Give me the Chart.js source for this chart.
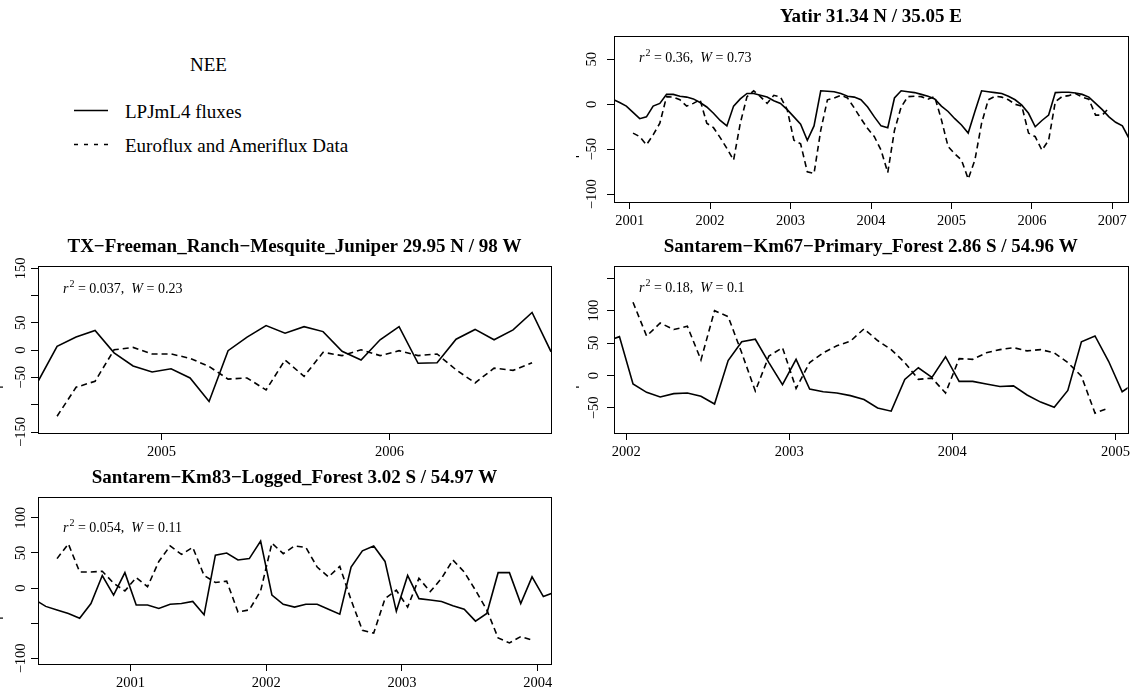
<!DOCTYPE html>
<html>
<head>
<meta charset="utf-8">
<script src="https://cdn.jsdelivr.net/npm/chart.js@4.4.1/dist/chart.umd.min.js"></script>
<style>
  html, body { margin: 0; padding: 0; background: #fff; }
  body { width: 1133px; height: 695px; overflow: hidden; position: relative; font-family: "Liberation Serif", serif; }
  canvas { position: absolute; }
  #legend { position: absolute; left: 0; top: 0; }
</style>
</head>
<body>
<svg id="legend" width="420" height="170" font-family="Liberation Serif, serif" font-size="19">
  <text id="legTitle" x="208.5" y="64" text-anchor="middle" dominant-baseline="central"></text>
  <line x1="74" y1="110.5" x2="108" y2="110.5" stroke="#000" stroke-width="1.3"/>
  <text id="leg0" x="125" y="111" dominant-baseline="central"></text>
  <line x1="74" y1="144.5" x2="108" y2="144.5" stroke="#000" stroke-width="1.3" stroke-dasharray="4 6"/>
  <text id="leg1" x="125" y="145" dominant-baseline="central"></text>
</svg>
<script>
// ---- Data (monthly NEE) ----
const legendTitle = 'NEE';
const seriesNames = ['LPJmL4 fluxes', 'Euroflux and Ameriflux Data'];

// Yatir
const yatirTitle = 'Yatir 31.34 N / 35.05 E';
const yatirStats = ['0.36', '0.73'];
const yatirModelStart = [2000, 10];
const yatirModel = [
  5.6, 2, -2,
  -9, -16, -14, -2, 1, 11, 11, 9, 8, 6, 2, -3,
  -10, -18, -24, -2, 6, 12, 12, 10, 8, 4, 1, -6,
  -14, -22, -40, -24, 15, 14.5, 14, 12, 9, 8, 5, -3,
  -14, -24, -26, 7, 15, 14, 13, 11, 9, 6, -2, -8,
  -16, -23, -32, -8, 15, 14, 13, 12, 9, 5, -1, -10,
  -25, -18, -12, 13, 13.4, 13.4, 12.6, 11, 8, 1, -6, -14,
  -20, -24, -38
];
const yatirObsStart = [2001, 1];
const yatirObs = [
  -32, -36, -45, -34, -21, 8.5, 8, 5, -2, 1, 5, -21,
  -26, -37, -49, -62, -21, 8.5, 15, 8.5, 1, 10, 8, -6,
  -40, -44, -75, -77, -29, 5, 7, 10, 7, -4, -16, -27,
  -36, -51, -76, -29, -3, 8.5, 9, 8.5, 5.6, 8.5, -17, -47,
  -55, -62, -83, -62, -21, 5, 9, 8, 5, 0, -2, -32,
  -36, -51, -40, 3, 8.5, 9.6, 12, 8, 5.6, -12, -12, -4
];
const yatirXRange = [2000.805, 2007.195];
const yatirYRange = [-108.6, 75.9];
const yatirYLabels = [-100, -50, 0, 50];

// TX Freeman Ranch
const txTitle = 'TX\u2212Freeman_Ranch\u2212Mesquite_Juniper 29.95 N / 98 W';
const txStats = ['0.037', '0.23'];
const txModelStart = [2004, 6];
const txModel = [
  -57, 7, 24, 36, -5, -29, -40,
  -34, -51, -94, -1, 24, 45, 31, 43, 34, -2, -18, 19,
  43, -24, -23, 20, 38, 19, 37, 69, -3
];
const txObsStart = [2004, 7];
const txObs = [
  -121, -68, -57, 0.6, 5, -7,
  -7, -15, -30, -53, -51, -73, -18, -48, -4, -10, 0.6, -10,
  -1, -10, -7, -36, -60, -33, -37, -23
];
const txXRange = [2004.458, 2006.708];
const txYRange = [-151.8, 154.2];
const txYLabels = [-150, -50, 0, 50, 150];

// Santarem Km67
const km67Title = 'Santarem\u2212Km67\u2212Primary_Forest 2.86 S / 54.96 W';
const km67Stats = ['0.18', '0.1'];
const km67ModelStart = [2001, 11];
const km67Model = [
  52, 60,
  -13, -26, -33, -28, -27, -32, -44, 23, 52, 56, 20, -14,
  25, -21, -25, -27, -31, -37, -50, -55, -6, 12, -3, 29,
  -9, -9, -13, -17, -16, -30, -41, -49, -23, 52, 61, 22,
  -25, -11
];
const km67ObsStart = [2002, 1];
const km67Obs = [
  113, 61, 81, 71, 76, 24, 100, 91, 35, -24, 30, 43,
  -20, 20, 35, 46, 53, 72, 54, 40, 20, -6, -4, -27,
  26, 25, 35, 40, 43, 38, 40, 35, 20, -1, -58, -50
];
const km67XRange = [2001.925, 2005.075];
const km67YRange = [-88.7, 169];
const km67YLabels = [-50, 0, 50, 100];

// Santarem Km83
const km83Title = 'Santarem\u2212Km83\u2212Logged_Forest 3.02 S / 54.97 W';
const km83Stats = ['0.054', '0.11'];
const km83ModelStart = [2000, 4];
const km83Model = [
  -16, -26, -31, -36, -43, -22, 18, -10, 22,
  -24, -24, -29, -23, -22, -19, -38, 47, 50, 40, 42, 67,
  -10, -23, -27, -23, -23, -30, -37, 30, 53, 60, 38, -33,
  18, -15, -17, -19, -25, -30, -47, -36, 22, 22, -22, 16,
  -12, -6
];
const km83ObsStart = [2000, 6];
const km83Obs = [
  42, 63, 23, 23, 24, 7, -4,
  15, 2, 38, 60, 48, 58, 18, 8, 10, -34, -31, -4,
  64, 49, 60, 58, 30, 16, 31, -17, -60, -64, -15, -3,
  -27, 14, -5, 14, 40, 23, -3, -31, -71, -78, -69, -74
];
const km83XRange = [2000.318, 2004.098];
const km83YRange = [-108, 129.7];
const km83YLabels = [-100, 0, 50, 100];

// ---- Legend ----
document.getElementById('legTitle').textContent = legendTitle;
document.getElementById('leg0').textContent = seriesNames[0];
document.getElementById('leg1').textContent = seriesNames[1];

// ---- Helpers ----
const FONT = '"Liberation Serif", serif';

function toPoints(start, values) {
  return values.map((v, i) => ({ x: start[0] + (start[1] - 1 + i + 0.5) / 12, y: v }));
}

function fmtNum(v) {
  return v < 0 ? '\u2212' + Math.abs(v) : String(v);
}

// box, title, y labels and r2/W note drawn around the chart area
function panelPlugin(p) {
  return {
    id: 'panel',
    afterDraw(chart) {
      const { ctx, chartArea: a } = chart;
      ctx.save();
      ctx.strokeStyle = '#000';
      ctx.lineWidth = 1;
      ctx.strokeRect(Math.round(a.left) + 0.5, Math.round(a.top) + 0.5,
        Math.round(a.right - a.left), Math.round(a.bottom - a.top));

      ctx.fillStyle = '#000';
      ctx.font = 'bold 19px ' + FONT;
      ctx.textAlign = 'center';
      ctx.textBaseline = 'middle';
      ctx.fillText(p.title, (a.left + a.right) / 2, a.top - 19);

      // y tick labels, rotated like R
      const ys = chart.scales.y;
      ctx.font = '14.5px ' + FONT;
      ys.ticks.forEach(t => {
        if (!p.yLabels.includes(t.value)) return;
        ctx.save();
        ctx.translate(a.left - p.labelGap, ys.getPixelForValue(t.value));
        ctx.rotate(-Math.PI / 2);
        ctx.fillText(fmtNum(t.value), 0, 0);
        ctx.restore();
      });

      // small y-label mark
      ctx.fillRect(a.left - 38, (a.top + a.bottom) / 2 + 37, 3, 1.2);

      // r^2 / W annotation
      let x = a.left + 25;
      const y = a.top + p.noteDy + 5;
      ctx.textAlign = 'left';
      ctx.textBaseline = 'alphabetic';
      const parts = [
        ['italic 14px ', 'r', 0],
        ['10px ', '2', -6],
        ['14px ', ' = ' + p.stats[0] + ',  ', 0],
        ['italic 14px ', 'W', 0],
        ['14px ', ' = ' + p.stats[1], 0]
      ];
      parts.forEach(([f, s, dy]) => {
        ctx.font = f + FONT;
        ctx.fillText(s, x, y + dy);
        x += ctx.measureText(s).width + (s === 'r' ? 1 : 0);
      });
      ctx.restore();
    }
  };
}

function makePanel(box, p) {
  const [L, T, R, B] = box;
  const cw = R - L + 45, ch = B - T + 75;
  const cv = document.createElement('canvas');
  cv.width = cw; cv.height = ch;
  cv.style.left = (L - 40) + 'px';
  cv.style.top = (T - 40) + 'px';
  cv.style.width = cw + 'px';
  cv.style.height = ch + 'px';
  document.body.appendChild(cv);

  const axisGrid = { display: true, drawOnChartArea: false, drawTicks: true, tickLength: 7, color: '#000', lineWidth: 1 };

  new Chart(cv, {
    type: 'line',
    data: {
      datasets: [
        { label: seriesNames[0], data: toPoints(p.modelStart, p.model), borderColor: '#000', borderWidth: 1.6,
          pointRadius: 0, tension: 0, fill: false, clip: 0 },
        { label: seriesNames[1], data: toPoints(p.obsStart, p.obs), borderColor: '#000', borderWidth: 1.6,
          borderDash: [6, 4], pointRadius: 0, tension: 0, fill: false, clip: 0 }
      ]
    },
    options: {
      responsive: false,
      animation: false,
      devicePixelRatio: 1,
      layout: { padding: { top: 40, left: 0, right: 5, bottom: 0 }, autoPadding: false },
      plugins: { legend: { display: false }, tooltip: { enabled: false }, title: { display: false } },
      scales: {
        x: {
          type: 'linear', min: p.xRange[0], max: p.xRange[1],
          afterFit: s => { s.height = 35; },
          ticks: { stepSize: 1, includeBounds: false, autoSkip: false, maxRotation: 0, minRotation: 0,
            color: '#000', font: { family: FONT, size: 14.5 }, padding: 3, callback: v => String(v) },
          grid: axisGrid,
          border: { display: false }
        },
        y: {
          type: 'linear', min: p.yRange[0], max: p.yRange[1],
          afterFit: s => { s.width = 40; },
          ticks: { stepSize: 50, includeBounds: false, display: false },
          grid: axisGrid,
          border: { display: false }
        }
      }
    },
    plugins: [panelPlugin(p)]
  });
}

makePanel([614, 36, 1128, 202], {
  title: yatirTitle, stats: yatirStats, modelStart: yatirModelStart, model: yatirModel,
  obsStart: yatirObsStart, obs: yatirObs, xRange: yatirXRange, yRange: yatirYRange,
  yLabels: yatirYLabels, labelGap: 22, noteDy: 21
});
makePanel([38, 266, 551, 433], {
  title: txTitle, stats: txStats, modelStart: txModelStart, model: txModel,
  obsStart: txObsStart, obs: txObs, xRange: txXRange, yRange: txYRange,
  yLabels: txYLabels, labelGap: 17, noteDy: 22
});
makePanel([614, 266, 1128, 433], {
  title: km67Title, stats: km67Stats, modelStart: km67ModelStart, model: km67Model,
  obsStart: km67ObsStart, obs: km67Obs, xRange: km67XRange, yRange: km67YRange,
  yLabels: km67YLabels, labelGap: 20, noteDy: 21
});
makePanel([38, 497, 551, 664], {
  title: km83Title, stats: km83Stats, modelStart: km83ModelStart, model: km83Model,
  obsStart: km83ObsStart, obs: km83Obs, xRange: km83XRange, yRange: km83YRange,
  yLabels: km83YLabels, labelGap: 17, noteDy: 30
});
</script>
</body>
</html>
